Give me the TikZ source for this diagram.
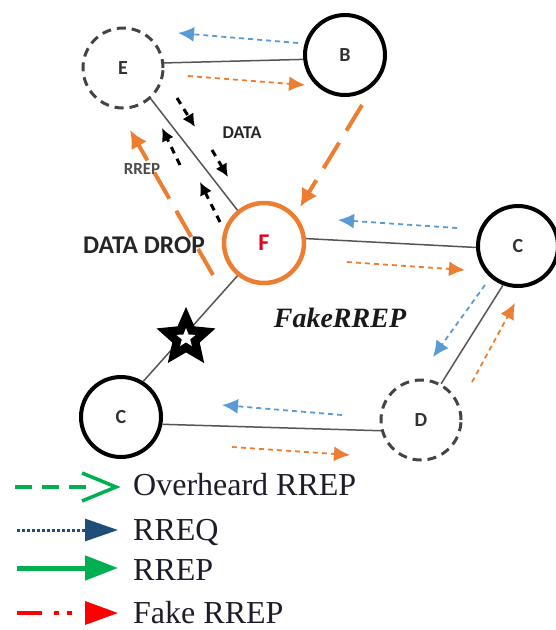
\documentclass[tikz,border=0pt]{standalone}
\usepackage{fontspec}
\setmainfont{Liberation Serif}
\newfontfamily\calib{Carlito}
\usetikzlibrary{arrows.meta,shapes.geometric}

\definecolor{msgblue}{HTML}{5B9BD5}
\definecolor{msgorange}{HTML}{ED7D31}
\definecolor{lgreen}{HTML}{00B050}
\definecolor{lnavy}{HTML}{1F4E79}
\definecolor{edgegray}{HTML}{555555}
\definecolor{ringgray}{HTML}{444444}
\definecolor{fred}{HTML}{E3001B}
\definecolor{legtext}{HTML}{1C1C2A}

\begin{document}
\begin{tikzpicture}[x=1pt,y=-1pt,
  solidnode/.style={circle,draw=black,line width=4pt,minimum size=80pt,inner sep=0pt,
    font=\calib\bfseries\fontsize{20}{20}\selectfont,text=black!80},
  dashnode/.style={solidnode,draw=ringgray,line width=3pt,dash pattern=on 9pt off 6pt},
  fakenode/.style={solidnode,draw=msgorange,line width=4.5pt,text=fred,
    font=\calib\bfseries\fontsize{24}{24}\selectfont},
  link/.style={draw=edgegray,line width=1.5pt},
  bluemsg/.style={msgblue,line width=1.8pt,dash pattern=on 5pt off 4pt,
    -{Latex[length=16pt,width=15pt]}},
  orangemsg/.style={bluemsg,msgorange},
  longmsg/.style={msgorange,line width=4pt,dash pattern=on 30pt off 14pt,
    -{Latex[length=18pt,width=18pt]}},
  datamsg/.style={black,line width=3pt,dash pattern=on 7pt off 6pt,
    -{Latex[length=13pt,width=13pt]}},
  smalltag/.style={font=\calib\bfseries\fontsize{18}{18}\selectfont},
  legendtext/.style={anchor=base west,text=legtext,font=\fontsize{32}{32}\selectfont,inner sep=0pt}
]
\useasboundingbox (0,0) rectangle (556,630);

% ---- network nodes ----
\node[dashnode] (E) at (123,68) {E};
\node[solidnode] (B) at (345,55) {B};
\node[fakenode] (F) at (264,243) {F};
\node[solidnode] (Cr) at (518,246) {C};
\node[dashnode] (D) at (421,420) {D};
\node[solidnode] (Cl) at (121,417) {C};

% ---- links ----
\draw[link] (E.7) -- (B.186);
\draw[link] (E.312) -- (F.129);
\draw[link] (F.6) -- (Cr.182);
\draw[link] (F.231) -- (Cl.58);
\draw[link] (Cl.350) -- (D.195);
\draw[link] (Cr.249) -- (D.61);

% ---- black hole marker on the F--C link ----
\node[star,star points=5,star point ratio=2.15,fill=black,minimum size=62pt,inner sep=0pt] (hole) at (186,338) {};
\node[star,star points=5,star point ratio=2.3,fill=white,minimum size=20pt,inner sep=0pt] (holecore) at (hole.center) {};

% ---- message end points ----
\coordinate (m1a) at (298,43);  \coordinate (m1b) at (178,33);
\coordinate (m2a) at (188,76);  \coordinate (m2b) at (305,85);
\coordinate (m3a) at (362,105); \coordinate (m3b) at (300,207);
\coordinate (d1a) at (177,98);  \coordinate (d1b) at (195,127);
\coordinate (d2a) at (212,150); \coordinate (d2b) at (228,177);
\coordinate (r1a) at (180,165); \coordinate (r1b) at (162,128);
\coordinate (r2a) at (220,222); \coordinate (r2b) at (200,182);
\coordinate (m6a) at (213,275); \coordinate (m6b) at (130,130);
\coordinate (m7a) at (457,228); \coordinate (m7b) at (338,220);
\coordinate (m8a) at (347,262); \coordinate (m8b) at (465,270);
\coordinate (m9a) at (485,285); \coordinate (m9b) at (433,357);
\coordinate (m10a) at (472,382); \coordinate (m10b) at (515,303);
\coordinate (m11a) at (342,415); \coordinate (m11b) at (222,405);
\coordinate (m12a) at (232,447); \coordinate (m12b) at (350,455);

% ---- messages ----
\draw[bluemsg] (m1a) -- (m1b);
\draw[orangemsg] (m2a) -- (m2b);
\draw[longmsg] (m3a) -- (m3b);
\draw[datamsg] (d1a) -- (d1b);
\draw[datamsg] (d2a) -- (d2b);
\draw[datamsg] (r1a) -- (r1b);
\draw[datamsg] (r2a) -- (r2b);
\draw[longmsg] (m6a) -- (m6b);
\draw[bluemsg] (m7a) -- (m7b);
\draw[orangemsg] (m8a) -- (m8b);
\draw[bluemsg] (m9a) -- (m9b);
\draw[orangemsg] (m10a) -- (m10b);
\draw[bluemsg] (m11a) -- (m11b);
\draw[orangemsg] (m12a) -- (m12b);

% ---- labels ----
\node[smalltag,text=black!85] (datatag) at (242,133) {DATA};
\node[smalltag,text=black!70,font=\calib\bfseries\fontsize{17}{17}\selectfont] (rreptag) at (142,169) {RREP};
\node[text=black!85,font=\calib\bfseries\fontsize{25.5}{25.5}\selectfont] (droptag) at (144,245) {DATA DROP};
\node[text=black!90,font=\bfseries\itshape\fontsize{28}{28}\selectfont] (faketag) at (340,318) {FakeRREP};

% ---- legend ----
\coordinate (g1a) at (15,487); \coordinate (g1b) at (88,487); \coordinate (g1t) at (116,487);
\draw[lgreen,line width=4pt,dash pattern=on 17pt off 10pt] (g1a) -- (g1b);
\draw[lgreen,line width=3.5pt,miter limit=10] ([xshift=-34pt,yshift=-14pt]g1t) -- (g1t) -- ([xshift=-34pt,yshift=14pt]g1t);
\node[legendtext] (lg1) at (133,495) {Overheard RREP};

\coordinate (g2a) at (17,530); \coordinate (g2b) at (118,530);
\draw[lnavy,line width=3pt,dash pattern=on 3pt off 2pt,-{Triangle[length=33pt,width=22pt]}] (g2a) -- (g2b);
\node[legendtext] (lg2) at (133,540) {RREQ};

\coordinate (g3a) at (17,568); \coordinate (g3b) at (118,568);
\draw[lgreen,line width=5pt,-{Triangle[length=33pt,width=24pt]}] (g3a) -- (g3b);
\node[legendtext] (lg3) at (133,580) {RREP};

\coordinate (g4a) at (17,613); \coordinate (g4b) at (118,613);
\draw[red,line width=3.5pt,dash pattern=on 25pt off 12pt on 5pt off 8pt on 5pt off 30pt,-{Triangle[length=33pt,width=23pt]}] (g4a) -- (g4b);
\node[legendtext] (lg4) at (133,623) {Fake RREP};
\end{tikzpicture}
\end{document}
